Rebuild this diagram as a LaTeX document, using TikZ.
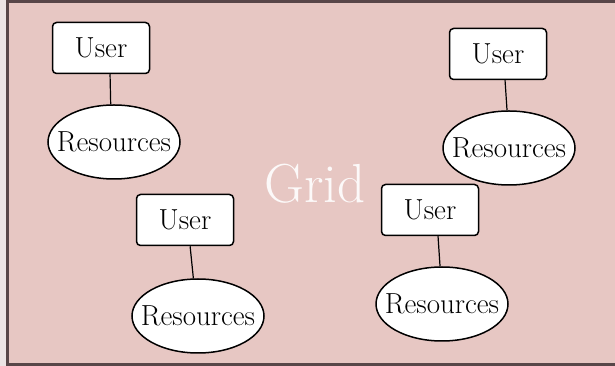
\documentclass[tikz,border=0pt]{standalone}
\usetikzlibrary{shapes.geometric,positioning}
\definecolor{gridpink}{RGB}{231,199,195}
\definecolor{framegray}{RGB}{88,70,72}
\definecolor{outside}{RGB}{236,228,228}
\begin{document}
\begin{tikzpicture}[x=1pt,y=1pt,node distance=94pt]
\tikzstyle{user} = [rectangle, rounded corners=4pt, minimum width=97pt, minimum height=51pt, text centered, draw=black, line width=1.5pt, fill=white, font=\fontsize{29}{34}\selectfont]
\tikzstyle{resources} = [ellipse, inner xsep=-12pt, inner ysep=0pt, minimum width=132pt, minimum height=74pt, draw=black, line width=1.5pt, fill=white, font=\fontsize{29}{34}\selectfont]
\tikzstyle{link} = [line width=1.2pt,-]
%
\useasboundingbox (0,0) rectangle (615,366);
\fill[outside] (0,0) rectangle (615,366);
\fill[gridpink] (7,0) rectangle (615,366);
\draw[framegray, line width=3pt] (6,364) -- (615,364);
\draw[framegray, line width=3pt] (7.5,366) -- (7.5,1.5) -- (615,1.5);
%
\node (grid) [text=white, opacity=0.9, anchor=base, inner sep=0pt, font=\fontsize{55}{60}\selectfont] at (315,163) {Grid};
%
\node (user1) [user] at (101,318) {User};
\node (res1) [resources, below of=user1, xshift=13pt] {Resources};
\node (user2) [user] at (498,312) {User};
\node (res2) [resources, below of=user2, xshift=11pt] {Resources};
\node (user3) [user] at (185,146) {User};
\node (res3) [resources, below of=user3, xshift=13pt, yshift=-2pt] {Resources};
\node (user4) [user] at (430,156) {User};
\node (res4) [resources, below of=user4, xshift=12pt] {Resources};
%
\draw [link] (user1.-71) -- (res1.95);
\draw [link] (user2.-75) -- (res2.93);
\draw [link] (user3.-79) -- (res3.97);
\draw [link] (user4.-73) -- (res4.93);
\end{tikzpicture}
\end{document}
